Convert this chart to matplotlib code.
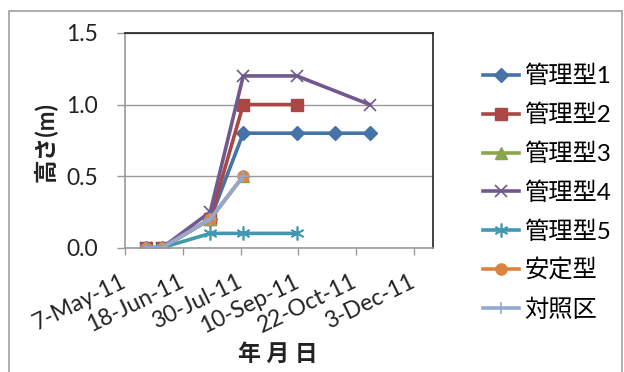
import datetime as dt
import matplotlib
matplotlib.use("Agg")
import matplotlib.pyplot as plt
import matplotlib.dates as mdates
from matplotlib.patches import Rectangle

plt.rcParams['font.family'] = ['Lato', 'Noto Sans CJK JP', 'DejaVu Sans']

# survey dates and plant heights (m)
dates = [dt.date(2011, 5, 22), dt.date(2011, 6, 3), dt.date(2011, 7, 8),
         dt.date(2011, 8, 1), dt.date(2011, 9, 9), dt.date(2011, 10, 7),
         dt.date(2011, 11, 1)]

kanri1 = [0.0, 0.0, 0.2, 0.8, 0.8, 0.8, 0.8]
kanri2 = [0.0, 0.0, 0.2, 1.0, 1.0]
kanri3 = [0.0, 0.0, 0.2, 0.5]
kanri4 = [0.0, 0.0, 0.25, 1.2, 1.2, None, 1.0]
kanri5 = [0.0, 0.0, 0.1, 0.1, 0.1]
antei = [0.0, 0.0, 0.2, 0.5]
taisho = [0.0, 0.0, 0.2, 0.5]

names = ['管理型1', '管理型2', '管理型3', '管理型4', '管理型5', '安定型', '対照区']
tick_dates = [dt.date(2011, 5, 7), dt.date(2011, 6, 18), dt.date(2011, 7, 30),
              dt.date(2011, 9, 10), dt.date(2011, 10, 22), dt.date(2011, 12, 3)]
tick_labels = ['7-May-11', '18-Jun-11', '30-Jul-11', '10-Sep-11', '22-Oct-11', '3-Dec-11']

styles = [
    dict(color='#4572A7', marker='D', ms=7.5),
    dict(color='#AA4643', marker='s', ms=8),
    dict(color='#89A54E', marker='^', ms=8),
    dict(color='#71588F', marker='x', ms=9, mew=1.2),
    dict(color='#4198AF', marker=(6, 2, 0), ms=10, mew=1.2),
    dict(color='#DB843D', marker='o', ms=8),
    dict(color='#93A9CF', marker='+', ms=9, mew=1.2),
]

fig = plt.figure(figsize=(6.24, 3.72), dpi=100)
# outer chart frame
fig.patches.append(Rectangle((9 / 624, -0.1), 613 / 624, 1.1 - 11 / 372,
                             transform=fig.transFigure, fill=False,
                             edgecolor='#a0a0a0', lw=1.2))
ax = fig.add_axes([125 / 624, 1 - 247.7 / 372, 308 / 624, 214.7 / 372])

series = [kanri1, kanri2, kanri3, kanri4, kanri5, antei, taisho]
for name, vals, st in zip(names, series, styles):
    # skip missing readings so the line joins the neighbouring points
    pts = [(d, v) for d, v in zip(dates, vals) if v is not None]
    xs = [p[0] for p in pts]
    ys = [p[1] for p in pts]
    ax.plot(xs, ys, lw=2.6, label=name, **st)

ax.set_ylim(0, 1.5)
ax.set_yticks([0, 0.5, 1.0, 1.5])
ax.set_yticklabels(['0.0', '0.5', '1.0', '1.5'])
ax.set_xlim(dt.date(2011, 5, 7), dt.date(2011, 12, 17))
ax.set_xticks([mdates.date2num(d) for d in tick_dates])
ax.set_xticklabels(tick_labels, rotation=26, ha='right', va='center',
                   rotation_mode='anchor')
ax.tick_params(axis='x', labelsize=16.5, colors='#222222', direction='out',
               length=5, width=1, pad=18.5, color='#999999')
ax.tick_params(axis='y', labelsize=16.5, colors='#222222', direction='out',
               length=6, width=1, pad=13.5, color='#999999')
ax.grid(axis='y', color='#999999', lw=1)
ax.set_axisbelow(True)
for side in ['left', 'bottom']:
    ax.spines[side].set_color('#999999')
    ax.spines[side].set_linewidth(1.2)
for side in ['top', 'right']:
    ax.spines[side].set_color('#222222')
    ax.spines[side].set_linewidth(1.2)

fig.text(46 / 624, 1 - 142.5 / 372, '高さ(m)', rotation=90, ha='center',
         va='center', fontsize=17, fontweight='bold', color='#222222')
fig.text(278 / 624, 1 - 354 / 372, '年 月 日', ha='center', va='center',
         fontsize=16.5, fontweight='bold', color='#222222')

fig.legend(loc='upper left', bbox_to_anchor=(483 / 624, 1 - 65 / 372),
           frameon=False, fontsize=17.5, handlelength=1.5,
           handletextpad=0.2, labelspacing=0.67, borderaxespad=0,
           borderpad=0)

fig.savefig('out.png', dpi=100)
